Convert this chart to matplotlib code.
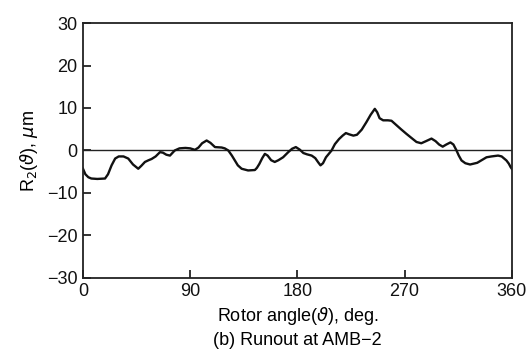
import matplotlib
matplotlib.use("Agg")
import matplotlib.pyplot as plt

angle_deg = [0, 2, 4.5, 7, 12, 18.5, 21, 24, 27, 30, 34, 38, 42, 46.4, 49, 52, 55, 57.6,
             61, 64.6, 67, 70, 73, 75, 77, 81, 86, 90, 94, 97, 100, 103.8, 107, 110.8,
             116.4, 119, 122, 125, 127.5, 130, 133.2, 138.6, 144.3, 146, 148, 150.5,
             152.7, 155, 158, 161, 164, 168, 172.3, 175.5, 178.7, 182, 185, 188, 192,
             195, 197.5, 199.4, 201.5, 204, 208.7, 211.5, 215, 218, 220.7, 223.5, 227,
             230, 234, 238, 241.5, 245, 247, 249, 252, 256, 259, 263, 267, 271.6, 276,
             280, 284, 288, 292.6, 296, 299, 302, 305, 308.5, 311, 313.6, 315.5, 317.8,
             321, 325, 331, 338.8, 343, 348.5, 351.5, 355.5, 357.5, 359, 360]
runout_um = [-4.3, -5.6, -6.3, -6.6, -6.7, -6.6, -5.6, -3.5, -1.9, -1.4, -1.4, -1.9,
             -3.3, -4.3, -3.6, -2.7, -2.3, -2.0, -1.4, -0.4, -0.5, -1.0, -1.2, -0.6, 0.0,
             0.5, 0.6, 0.5, 0.15, 0.7, 1.7, 2.35, 1.8, 0.8, 0.7, 0.5, 0.0, -1.2, -2.35,
             -3.5, -4.3, -4.7, -4.6, -4.1, -3.2, -1.8, -0.8, -1.2, -2.3, -2.7, -2.3, -1.6,
             -0.4, 0.4, 0.8, 0.2, -0.6, -0.9, -1.2, -1.8, -2.8, -3.5, -3.0, -1.6, 0.0, 1.5,
             2.7, 3.5, 4.1, 3.8, 3.5, 3.7, 4.9, 6.7, 8.4, 9.8, 9.0, 7.6, 7.1, 7.1, 7.0, 6.0,
             5.0, 3.9, 2.9, 2.0, 1.7, 2.2, 2.8, 2.2, 1.4, 0.9, 1.4, 1.9, 1.4, 0.0, -1.2,
             -2.35, -3.0, -3.3, -2.9, -1.6, -1.4, -1.2, -1.4, -2.35, -3.1, -3.9, -4.3]

x_ticks = [0, 90, 180, 270, 360]
y_ticks = [-30, -20, -10, 0, 10, 20, 30]

plt.rcParams['font.family'] = ['Liberation Sans', 'DejaVu Sans']
plt.rcParams['mathtext.fontset'] = 'dejavusans'

fig = plt.figure(figsize=(5.32, 3.6), dpi=100)
ax = fig.add_axes([0.156, 0.228, 0.806, 0.708])

ax.axhline(0, color='#222222', lw=1.0)
ax.plot(angle_deg, runout_um, color='#111111', lw=1.7, solid_joinstyle='round')

ax.set_xlim(0, 360)
ax.set_ylim(-30, 30)
ax.set_xticks(x_ticks)
ax.set_yticks(y_ticks)
ax.set_yticklabels([str(v).replace('-', '\u2212') for v in y_ticks])
ax.tick_params(direction='in', length=6, width=1.2, labelsize=13, colors='#111111',
               top=False, right=False, pad=4)
for s in ax.spines.values():
    s.set_linewidth(1.3)
    s.set_color('#222222')

ax.set_ylabel(r'R$_2$($\vartheta$), $\mu$m', fontsize=13, labelpad=5)
ax.set_xlabel('Rotor angle($\\vartheta$), deg.\n(b) Runout at AMB\u22122', fontsize=13,
              linespacing=1.45, labelpad=3)

fig.savefig('out.png', dpi=100)
